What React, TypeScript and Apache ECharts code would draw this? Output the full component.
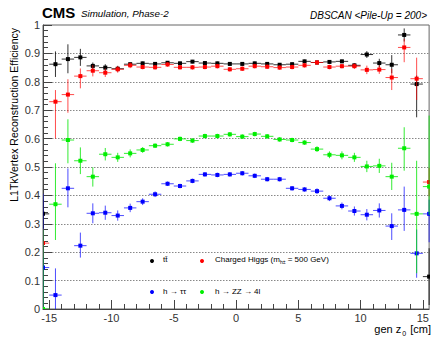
import React, { useEffect, useRef } from "react";
import * as echarts from "echarts";

// bin centres of gen z0 [cm]
const binCenters = [
  -15.5, -14.5, -13.5, -12.5, -11.5, -10.5, -9.5, -8.5, -7.5, -6.5, -5.5, -4.5, -3.5, -2.5, -1.5, -0.5,
  0.5, 1.5, 2.5, 3.5, 4.5, 5.5, 6.5, 7.5, 8.5, 9.5, 10.5, 11.5, 12.5, 13.5, 14.5, 15.5,
];

// ttbar
const ttbarEff = [
  0.335, 0.862, 0.88, 0.886, 0.856, 0.85, 0.846, 0.862, 0.865, 0.863, 0.867, 0.865, 0.871, 0.866, 0.865, 0.863,
  0.863, 0.865, 0.863, 0.86, 0.862, 0.872, 0.868, 0.87, 0.872, 0.858, 0.896, 0.866, 0.86, 0.965, 0.792, 0.114,
];
const ttbarErrLo = [
  0.05, 0.045, 0.05, 0.03, 0.012, 0.012, 0.01, 0.006, 0.006, 0.006, 0.006, 0.006, 0.006, 0.006, 0.006, 0.006,
  0.006, 0.006, 0.006, 0.006, 0.006, 0.006, 0.006, 0.006, 0.006, 0.008, 0.012, 0.015, 0.03, 0.023, 0.117, 0.1,
];
const ttbarErrHi = [
  0.05, 0.045, 0.052, 0.03, 0.012, 0.012, 0.01, 0.006, 0.006, 0.006, 0.006, 0.006, 0.006, 0.006, 0.006, 0.006,
  0.006, 0.006, 0.006, 0.006, 0.006, 0.006, 0.006, 0.006, 0.006, 0.008, 0.012, 0.015, 0.034, 0.023, 0.03, 0.1,
];

// Charged Higgs (m = 500 GeV)
const higgsEff = [
  0.232, 0.73, 0.755, 0.82, 0.839, 0.832, 0.844, 0.858, 0.852, 0.851, 0.861, 0.851, 0.851, 0.852, 0.855, 0.844,
  0.846, 0.855, 0.853, 0.85, 0.852, 0.858, 0.868, 0.852, 0.855, 0.855, 0.842, 0.843, 0.815, 0.921, 0.811, 0.447,
];
const higgsErrLo = [
  0.05, 0.13, 0.064, 0.043, 0.02, 0.015, 0.012, 0.01, 0.008, 0.008, 0.008, 0.008, 0.008, 0.008, 0.008, 0.008,
  0.008, 0.008, 0.008, 0.008, 0.008, 0.008, 0.008, 0.008, 0.008, 0.01, 0.015, 0.015, 0.044, 0.052, 0.075, 0.05,
];
const higgsErrHi = [
  0.05, 0.041, 0.054, 0.027, 0.02, 0.015, 0.012, 0.01, 0.008, 0.008, 0.008, 0.008, 0.008, 0.008, 0.008, 0.008,
  0.008, 0.008, 0.008, 0.008, 0.008, 0.008, 0.008, 0.008, 0.008, 0.01, 0.015, 0.015, 0.03, 0.03, 0.074, 0.05,
];

// h -> tautau
const tautauEff = [
  0.146, 0.049, 0.425, 0.223, 0.337, 0.339, 0.329, 0.356, 0.378, 0.404, 0.441, 0.433, 0.451, 0.474, 0.472, 0.474,
  0.478, 0.469, 0.457, 0.457, 0.425, 0.421, 0.415, 0.39, 0.363, 0.345, 0.332, 0.347, 0.292, 0.349, 0.196, 0.335,
];
const tautauErrLo = [
  0.146, 0.049, 0.067, 0.042, 0.035, 0.025, 0.018, 0.015, 0.012, 0.01, 0.008, 0.008, 0.008, 0.008, 0.008, 0.008,
  0.008, 0.008, 0.008, 0.008, 0.008, 0.008, 0.01, 0.01, 0.012, 0.016, 0.02, 0.025, 0.049, 0.074, 0.086, 0.1,
];
const tautauErrHi = [
  0.26, 0.094, 0.07, 0.046, 0.035, 0.025, 0.018, 0.015, 0.012, 0.01, 0.008, 0.008, 0.008, 0.008, 0.008, 0.008,
  0.008, 0.008, 0.008, 0.008, 0.008, 0.008, 0.01, 0.01, 0.012, 0.016, 0.02, 0.025, 0.045, 0.082, 0.084, 0.05,
];

// h -> ZZ -> 4l
const zzEff = [
  0.0, 0.369, 0.595, 0.522, 0.466, 0.545, 0.534, 0.548, 0.56, 0.575, 0.58, 0.599, 0.593, 0.609, 0.609, 0.615,
  0.607, 0.616, 0.608, 0.597, 0.595, 0.586, 0.563, 0.543, 0.541, 0.534, 0.502, 0.504, 0.466, 0.566, 0.335, 0.431,
];
const zzErrLo = [
  0.0, 0.126, 0.082, 0.047, 0.035, 0.022, 0.016, 0.014, 0.01, 0.008, 0.008, 0.008, 0.008, 0.008, 0.008, 0.008,
  0.008, 0.008, 0.008, 0.008, 0.008, 0.008, 0.01, 0.012, 0.014, 0.016, 0.02, 0.025, 0.047, 0.079, 0.209, 0.1,
];
const zzErrHi = [
  0.28, 0.144, 0.073, 0.047, 0.033, 0.022, 0.016, 0.014, 0.01, 0.008, 0.008, 0.008, 0.008, 0.008, 0.008, 0.008,
  0.008, 0.008, 0.008, 0.008, 0.008, 0.008, 0.01, 0.012, 0.014, 0.016, 0.02, 0.025, 0.049, 0.074, 0.187, 0.25,
];

const xMajorTicks = [-15, -10, -5, 0, 5, 10, 15];
const xMinorTicks = [
  -15, -14, -13, -12, -11, -10, -9, -8, -7, -6, -5, -4, -3, -2, -1, 0, 1, 2, 3, 4, 5, 6, 7, 8, 9, 10, 11, 12, 13,
  14, 15,
];

const FONT = '"Liberation Sans", Arial, Helvetica, sans-serif';

function buildData(vals: number[], lo: number[], hi: number[]) {
  return binCenters.map((b, i) => [b, vals[i], lo[i], hi[i]]);
}

function makeRenderItem(color: string, lineColor: string) {
  return (params: any, api: any) => {
    const x = api.value(0);
    const y = api.value(1);
    const lo = api.value(2);
    const hi = api.value(3);
    const pL = api.coord([x - 0.5, y]);
    const pR = api.coord([x + 0.5, y]);
    const pB = api.coord([x, y - lo]);
    const pT = api.coord([x, y + hi]);
    const c = api.coord([x, y]);
    const s = 4;
    return {
      type: "group",
      children: [
        {
          type: "line",
          shape: { x1: pL[0], y1: pL[1], x2: pR[0], y2: pR[1] },
          style: { stroke: lineColor, lineWidth: 1 },
        },
        {
          type: "line",
          shape: { x1: pB[0], y1: pB[1], x2: pT[0], y2: pT[1] },
          style: { stroke: lineColor, lineWidth: 1 },
        },
        {
          type: "rect",
          shape: { x: c[0] - s / 2, y: c[1] - s / 2, width: s, height: s },
          style: { fill: color },
        },
      ],
    };
  };
}

function seriesOf(name: string, vals: number[], lo: number[], hi: number[], color: string, lineColor: string) {
  return {
    type: "custom",
    name,
    xAxisIndex: 0,
    yAxisIndex: 0,
    clip: true,
    renderItem: makeRenderItem(color, lineColor),
    encode: { x: 0, y: 1 },
    data: buildData(vals, lo, hi),
  };
}

export default function App() {
  const ref = useRef<HTMLDivElement>(null);
  useEffect(() => {
    if (!ref.current) return;
    const chart = echarts.init(ref.current, undefined, { renderer: "svg" });
    const axisColor = "#444";
    const legendFont = `8px ${FONT}`;
    chart.setOption({
      animation: false,
      grid: {
        left: 43,
        right: 2,
        top: 25,
        bottom: 30,
        show: true,
        borderColor: "#666",
        borderWidth: 1,
      },
      xAxis: [
        {
          type: "value",
          min: -15.5,
          max: 15.5,
          position: "bottom",
          axisLine: { show: true, onZero: false, lineStyle: { color: axisColor } },
          axisTick: { show: true, inside: true, length: 9, customValues: xMajorTicks, lineStyle: { color: axisColor } },
          axisLabel: {
            customValues: xMajorTicks,
            fontSize: 11,
            fontFamily: FONT,
            color: "#333",
            margin: 3,
          },
          splitLine: { show: false },
        },
        {
          type: "value",
          min: -15.5,
          max: 15.5,
          position: "bottom",
          axisLine: { show: false, onZero: false },
          axisTick: { show: true, inside: true, length: 5, customValues: xMinorTicks, lineStyle: { color: axisColor } },
          axisLabel: { show: false },
          splitLine: { show: false },
        },
      ],
      yAxis: {
        type: "value",
        min: 0,
        max: 1,
        interval: 0.1,
        position: "left",
        axisLine: { show: true, onZero: false, lineStyle: { color: axisColor } },
        axisTick: { show: true, inside: true, length: 9, lineStyle: { color: axisColor } },
        minorTick: { show: true, splitNumber: 5, length: 5, lineStyle: { color: axisColor } },
        axisLabel: { fontSize: 11, fontFamily: FONT, color: "#333", margin: 3 },
        splitLine: {
          show: true,
          showMinLine: false,
          showMaxLine: false,
          lineStyle: { color: "#888", width: 1, type: [1.5, 1.5] },
        },
      },
      series: [
        seriesOf("ttbar", ttbarEff, ttbarErrLo, ttbarErrHi, "#000000", "rgba(0,0,0,0.8)"),
        seriesOf("Charged Higgs", higgsEff, higgsErrLo, higgsErrHi, "#ff0000", "rgba(255,0,0,0.7)"),
        seriesOf("h->tautau", tautauEff, tautauErrLo, tautauErrHi, "#0000ff", "rgba(0,0,255,0.7)"),
        seriesOf("h->ZZ->4l", zzEff, zzErrLo, zzErrHi, "#00ee00", "rgba(0,230,0,0.8)"),
      ],
      graphic: [
        {
          type: "text",
          x: 42,
          y: 12,
          style: {
            text: "CMS",
            font: `bold 15px ${FONT}`,
            fill: "#000",
            align: "left",
            verticalAlign: "middle",
          },
        },
        {
          type: "text",
          x: 81,
          y: 13.5,
          style: {
            text: "Simulation, Phase-2",
            font: `italic 9.8px ${FONT}`,
            fill: "#000",
            align: "left",
            verticalAlign: "middle",
          },
        },
        {
          type: "text",
          x: 427,
          y: 15,
          style: {
            text: "DBSCAN <Pile-Up = 200>",
            font: `italic 10px ${FONT}`,
            fill: "#000",
            align: "right",
            verticalAlign: "middle",
          },
        },
        {
          type: "text",
          x: 14,
          y: 28,
          rotation: Math.PI / 2,
          style: {
            text: "L1TkVertex Reconstruction Efficiency",
            font: `10.5px ${FONT}`,
            fill: "#000",
            align: "right",
            verticalAlign: "middle",
          },
        },
        {
          type: "text",
          x: 431,
          y: 329,
          style: {
            text: "{a|gen z}{s|0}{a| [cm]}",
            align: "right",
            verticalAlign: "middle",
            rich: {
              a: { fontSize: 11, fontFamily: FONT, fill: "#000", lineHeight: 14 },
              s: { fontSize: 7, fontFamily: FONT, fill: "#000", verticalAlign: "bottom", padding: [8, 1, 0, 1] },
            },
          },
        },
        // legend
        { type: "circle", shape: { cx: 152, cy: 261, r: 2 }, style: { fill: "#000" } },
        {
          type: "text",
          x: 163,
          y: 259,
          style: { text: "tt\u0304", font: legendFont, fill: "#000", align: "left", verticalAlign: "middle" },
        },
        { type: "circle", shape: { cx: 202, cy: 261, r: 2 }, style: { fill: "#ff0000" } },
        {
          type: "text",
          x: 215,
          y: 259,
          style: {
            text: "{n|Charged Higgs (m}{s|h\u00b1}{n| = 500 GeV)}",
            align: "left",
            verticalAlign: "middle",
            rich: {
              n: { fontSize: 8, fontFamily: FONT, fill: "#000", lineHeight: 10 },
              s: { fontSize: 5, fontFamily: FONT, fill: "#000", verticalAlign: "bottom", padding: [6, 0, 0, 0] },
            },
          },
        },
        { type: "circle", shape: { cx: 152, cy: 292, r: 2 }, style: { fill: "#0000ff" } },
        {
          type: "text",
          x: 163,
          y: 291,
          style: { text: "h \u2192 \u03c4\u03c4", font: legendFont, fill: "#000", align: "left", verticalAlign: "middle" },
        },
        { type: "circle", shape: { cx: 202, cy: 292, r: 2 }, style: { fill: "#00ee00" } },
        {
          type: "text",
          x: 215,
          y: 291,
          style: {
            text: "h \u2192 ZZ \u2192 4l",
            font: legendFont,
            fill: "#000",
            align: "left",
            verticalAlign: "middle",
          },
        },
      ],
    });
    return () => chart.dispose();
  }, []);
  return <div ref={ref} style={{ width: 432, height: 339, position: "absolute", left: 0, top: 0 }} />;
}
